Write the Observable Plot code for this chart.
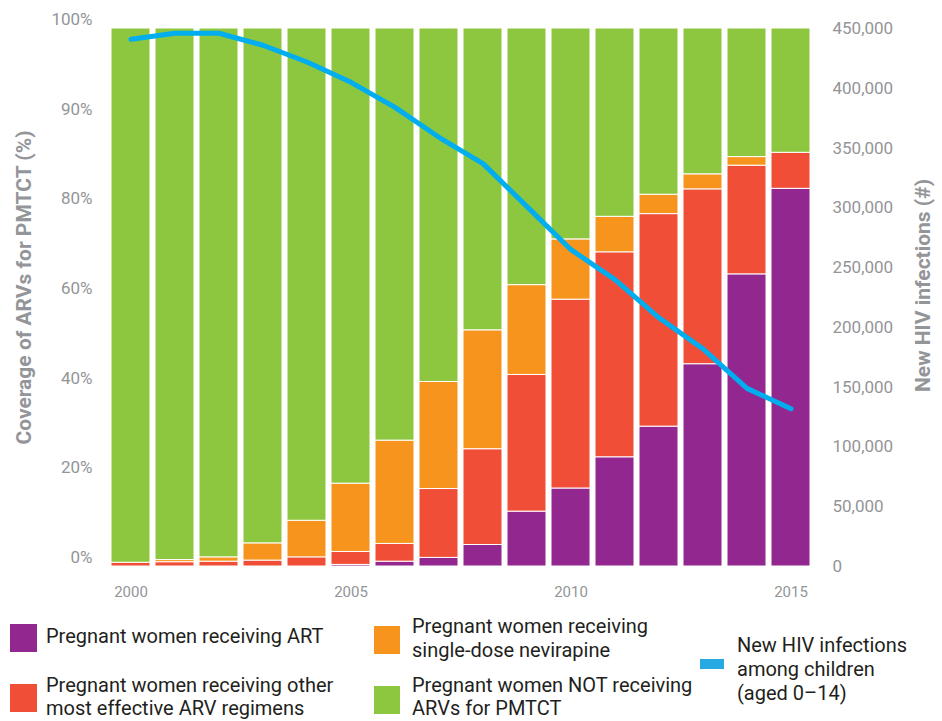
<!DOCTYPE html>
<html><head><meta charset="utf-8">
<script src="https://cdn.jsdelivr.net/npm/d3@7"></script>
<script src="https://cdn.jsdelivr.net/npm/@observablehq/plot@0.6"></script>
<style>
body{margin:0;background:#fff;font-family:Roboto,sans-serif;}
#wrap{position:relative;width:942px;height:721px;overflow:hidden;}
#wrap svg{position:absolute;left:0;top:0;}
.sw{position:absolute;}
.lt{position:absolute;font-size:20px;line-height:24px;color:#231f20;white-space:nowrap;}
</style></head><body><div id="wrap"></div>
<script>
// ---- data ----
const years = [2000,2001,2002,2003,2004,2005,2006,2007,2008,2009,2010,2011,2012,2013,2014,2015];
const art            = [0,   0,   0,   0,   0,   0.3, 0.9, 1.6, 4.0, 10.2,14.5,20.3,26.0,37.6,54.3,70.2];
const otherRegimens  = [0.7, 0.8, 0.9, 1.1, 1.7, 2.4, 3.3, 12.8,17.8,25.4,35.1,38.1,39.5,32.5,20.2,6.7];
const singleDose     = [0,   0.4, 0.8, 3.2, 6.8, 12.7,19.2,19.9,22.1,16.7,11.2,6.6, 3.6, 2.8, 1.6, 0];
const notReceiving   = [99.3,98.8,98.3,95.7,91.5,84.6,76.6,65.7,56.1,47.7,39.2,35.0,30.9,27.1,23.9,23.1];
const newInfections  = [441000,446000,446000,436000,422000,405000,384000,359000,337000,301000,265000,240000,208000,182000,149000,132000];

const categories = [
  "Pregnant women receiving ART",
  "Pregnant women receiving other most effective ARV regimens",
  "Pregnant women receiving single-dose nevirapine",
  "Pregnant women NOT receiving ARVs for PMTCT"
];
const catColors = ["#92278f","#f04e37","#f7941d","#8dc63f"];
const lineName = "New HIV infections among children (aged 0–14)";
const lineColor = "#00aeef";

const leftTickLabels = ["0%","20%","40%","60%","80%","90%","100%"];
const rightTickValues = [0,50000,100000,150000,200000,250000,300000,350000,400000,450000];
const xTickYears = [2000,2005,2010,2015];
const leftTitle = "Coverage of ARVs for PMTCT (%)";
const rightTitle = "New HIV infections (#)";
const rightMax = 450000;

// ---- tables ----
const series = [art, otherRegimens, singleDose, notReceiving];
const rows = [];
years.forEach((yr, i) => series.forEach((s, k) => rows.push({year: yr, cat: categories[k], value: s[i]})));
const lineRows = years.map((yr, i) => ({year: yr, v: newInfections[i] / rightMax * 100}));
const leftTickPos = leftTickLabels.map((_, i) => i / (leftTickLabels.length - 1) * 100);
const gray = "#939598";

const chart = Plot.plot({
  width: 942,
  height: 612,
  marginTop: 28,
  marginBottom: 46,
  marginLeft: 100,
  marginRight: 120,
  style: {fontFamily: "Roboto, sans-serif", background: "transparent"},
  x: {type: "band", domain: years, padding: 0.11, label: null},
  y: {domain: [0, 100], label: null},
  color: {domain: categories, range: catColors},
  marks: [
    Plot.barY(rows, {x: "year", y: "value", fill: "cat", stroke: "white", strokeWidth: 1}),
    Plot.lineY(lineRows, {x: "year", y: "v", stroke: lineColor, strokeWidth: 5}),
    Plot.axisX(xTickYears, {tickSize: 0, tickPadding: 20, fill: gray, fontSize: 15, label: null,
      tickFormat: d => String(d)}),
    Plot.axisY(leftTickPos, {anchor: "left", tickSize: 0, tickPadding: 8, dy: -9, fill: gray, fontSize: 17, label: null,
      tickFormat: (d, i) => leftTickLabels[i]}),
    Plot.axisY(rightTickValues.map(v => v / rightMax * 100), {anchor: "right", tickSize: 0, tickPadding: 10, fill: gray, fontSize: 17, label: null,
      tickFormat: d => d3.format(",")(Math.round(d * rightMax / 100))}),
    Plot.text([leftTitle], {frameAnchor: "left", textAnchor: "middle", dx: -76, dy: -10, rotate: -90, fill: gray, fontSize: 21, fontWeight: "bold"}),
    Plot.text([rightTitle], {frameAnchor: "right", textAnchor: "middle", dx: 101, dy: -12, rotate: -90, fill: gray, fontSize: 21, fontWeight: "bold"})
  ]
});
const wrap = document.getElementById("wrap");
wrap.appendChild(chart);

// ---- legend (HTML below the svg) ----
const legendItems = [
  {color: catColors[0], lines: ["Pregnant women receiving ART"], sx: 10, sy: 624, sw: 27, sh: 28, tx: 46, ty: 624, lh: 24},
  {color: catColors[1], lines: ["Pregnant women receiving other", "most effective ARV regimens"], sx: 10, sy: 684, sw: 27, sh: 28, tx: 46, ty: 674, lh: 23},
  {color: catColors[2], lines: ["Pregnant women receiving", "single-dose nevirapine"], sx: 374, sy: 626, sw: 26, sh: 28, tx: 412, ty: 614, lh: 24},
  {color: catColors[3], lines: ["Pregnant women NOT receiving", "ARVs for PMTCT"], sx: 374, sy: 686, sw: 26, sh: 28, tx: 412, ty: 674, lh: 23},
  {color: "#27aae1", lines: ["New HIV infections", "among children", "(aged 0–14)"], sx: 700, sy: 659, sw: 24, sh: 10, tx: 737, ty: 633, lh: 24}
];
for (const it of legendItems) {
  const s = document.createElement("div");
  s.className = "sw";
  Object.assign(s.style, {left: it.sx + "px", top: it.sy + "px", width: it.sw + "px", height: it.sh + "px", background: it.color});
  wrap.appendChild(s);
  const t = document.createElement("div");
  t.className = "lt";
  Object.assign(t.style, {left: it.tx + "px", top: it.ty + "px", lineHeight: it.lh + "px"});
  t.innerHTML = it.lines.join("<br>");
  wrap.appendChild(t);
}
</script>
</body></html>
